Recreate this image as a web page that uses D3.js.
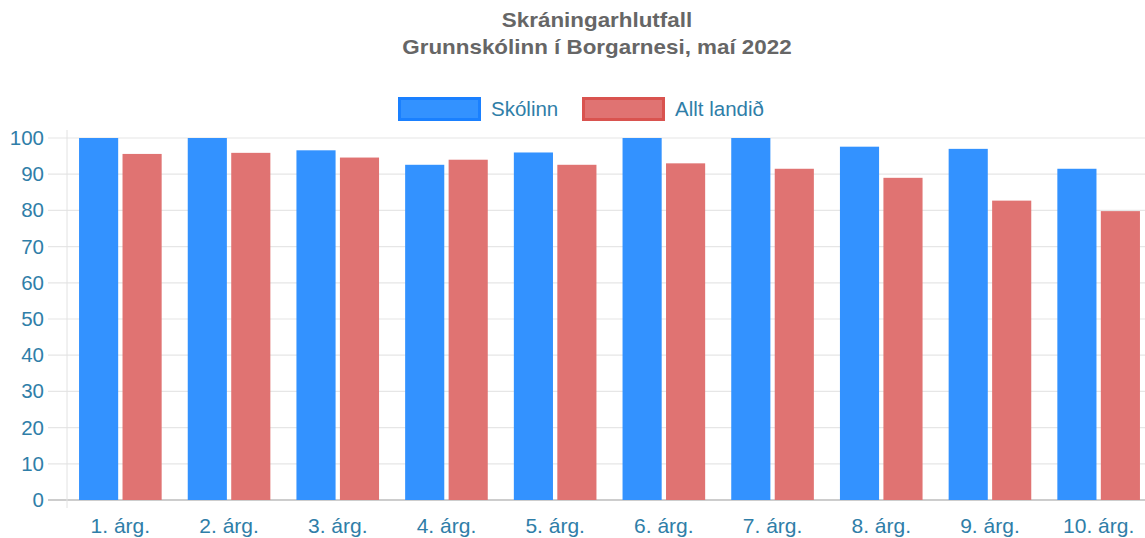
<!DOCTYPE html>
<html>
<head>
<meta charset="utf-8">
<script src="https://cdn.jsdelivr.net/npm/d3@7"></script>
<style>
  body { margin: 0; background: #fff; }
  svg { display: block; font-family: "Liberation Sans", Arial, sans-serif; }
</style>
</head>
<body>
<svg id="svg"></svg>
<script>
// data
let categories = ["1. árg.", "2. árg.", "3. árg.", "4. árg.", "5. árg.", "6. árg.", "7. árg.", "8. árg.", "9. árg.", "10. árg."];
let seriesNames = ["Skólinn", "Allt landið"];
let skolinn = [100, 100, 96.6, 92.6, 96.0, 100, 100, 97.6, 97.0, 91.5];
let alltLandid = [95.6, 95.9, 94.6, 94.0, 92.6, 93.0, 91.5, 89.0, 82.7, 79.8];
let yTicks = [0, 10, 20, 30, 40, 50, 60, 70, 80, 90, 100];
let titleLines = ["Skráningarhlutfall", "Grunnskólinn í Borgarnesi, maí 2022"];

let width = 1145;
let height = 538;
let plotLeft = 66;
let plotRight = 1153;
let plotTop = 138;
let plotBottom = 500;

let fills = ["#3392ff", "#e07372"];
let borders = ["#1a80ff", "#d9534f"];
let tickColor = "#2f7ea8";

let svg = d3.select("#svg").attr("width", width).attr("height", height);

let xScale = d3.scaleBand().domain(categories).range([plotLeft, plotRight]).paddingInner(0.2).paddingOuter(0.1);
let xInner = d3.scaleBand().domain([0, 1]).range([0, xScale.bandwidth()]).paddingInner(0.1).paddingOuter(0.05);
let yScale = d3.scaleLinear().domain([0, 100]).range([plotBottom, plotTop]);

// grid
svg.append("g")
  .selectAll("line")
  .data(yTicks)
  .enter()
  .append("line")
  .attr("x1", plotLeft - 18)
  .attr("x2", width)
  .attr("y1", (d) => yScale(d))
  .attr("y2", (d) => yScale(d))
  .attr("stroke", (d) => d === 0 ? "#bdbdbd" : "#e6e6e6")
  .attr("stroke-width", (d) => d === 0 ? 1.5 : 1.2);

svg.append("line")
  .attr("x1", plotLeft + 1).attr("x2", plotLeft + 1)
  .attr("y1", plotTop - 8).attr("y2", plotBottom + 8)
  .attr("stroke", "#e2e2e2");

// y axis labels
let yAxis = d3.axisLeft(yScale).tickValues(yTicks).tickSize(0).tickPadding(22);
let gy = svg.append("g").attr("transform", "translate(" + plotLeft + ",0)").call(yAxis);
gy.select(".domain").remove();
gy.selectAll("text").attr("fill", tickColor).attr("font-size", 20.5).attr("font-family", "Liberation Sans, Arial, sans-serif");

// x axis labels
let xAxis = d3.axisBottom(xScale).tickSize(0).tickPadding(18);
let gx = svg.append("g").attr("transform", "translate(0," + plotBottom + ")").call(xAxis);
gx.select(".domain").remove();
gx.selectAll("text").attr("fill", tickColor).attr("font-size", 21).attr("font-family", "Liberation Sans, Arial, sans-serif");

// bars
let rows = categories.map((c, i) => ({ cat: c, values: [skolinn[i], alltLandid[i]] }));
let groups = svg.append("g")
  .selectAll("g")
  .data(rows)
  .enter()
  .append("g")
  .attr("transform", (d) => "translate(" + xScale(d.cat) + ",0)");

groups.selectAll("rect")
  .data((d) => d.values.map((v, k) => ({ v: v, k: k })))
  .enter()
  .append("rect")
  .attr("x", (d) => xInner(d.k))
  .attr("width", xInner.bandwidth())
  .attr("y", (d) => yScale(d.v))
  .attr("height", (d) => plotBottom - yScale(d.v))
  .attr("fill", (d) => fills[d.k]);

// title (slightly stretched horizontally like the reference)
svg.append("g")
  .attr("transform", "translate(597,0) scale(1.12,1)")
  .selectAll("text")
  .data(titleLines)
  .enter()
  .append("text")
  .attr("x", 0)
  .attr("y", (d, i) => 27 + i * 27)
  .attr("text-anchor", "middle")
  .attr("font-size", 20)
  .attr("font-weight", "bold")
  .attr("fill", "#666")
  .text((d) => d);

// legend
let legendX = [398, 582];
let legend = svg.append("g")
  .selectAll("g")
  .data(seriesNames)
  .enter()
  .append("g")
  .attr("transform", (d, i) => "translate(" + legendX[i] + ",97)");

legend.append("rect")
  .attr("x", 1.5).attr("y", 1.5)
  .attr("width", 80).attr("height", 21)
  .attr("fill", (d, i) => fills[i])
  .attr("stroke", (d, i) => borders[i])
  .attr("stroke-width", 3);

legend.append("text")
  .attr("x", 93)
  .attr("y", 19)
  .attr("font-size", 20.5)
  .attr("fill", tickColor)
  .text((d) => d);
</script>
</body>
</html>
